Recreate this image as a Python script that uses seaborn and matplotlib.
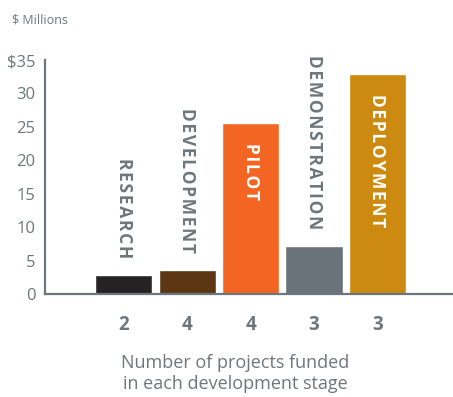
import matplotlib
matplotlib.use("Agg")
import matplotlib.pyplot as plt
import seaborn as sns
import pandas as pd

stages = ["RESEARCH", "DEVELOPMENT", "PILOT", "DEMONSTRATION", "DEPLOYMENT"]
funding = [2.8, 3.6, 25.6, 7.2, 32.9]
projects = ["2", "4", "4", "3", "3"]
colors = ["#252223", "#5d3714", "#f26522", "#6a7379", "#cc8b10"]
label_inside = [False, False, True, False, True]
yticks = [0, 5, 10, 15, 20, 25, 30, 35]
ytick_labels = ["0", "5", "10", "15", "20", "25", "30", "$35"]

GRAY = "#6d767b"

sns.set_style("white")
plt.rcParams['font.family'] = ['Open Sans', 'DejaVu Sans']

df = pd.DataFrame({"stage": stages, "funding": funding})

fig = plt.figure(figsize=(4.53, 3.97), dpi=100)
ax = fig.add_axes([45/453, 103/397, 1 - 45/453, (294-60)/397])

sns.barplot(data=df, x="stage", y="funding", hue="stage", palette=colors,
            width=0.9, legend=False, ax=ax, saturation=1)

ax.set_xlim(-1.24, 5.19)
ax.set_ylim(0, 35)
ax.set_yticks(yticks)
ax.set_yticklabels(ytick_labels)
ax.set_xticks(range(len(stages)))
ax.set_xticklabels(projects, fontsize=13.5, fontweight="bold", color=GRAY)

for s in ["top", "right"]:
    ax.spines[s].set_visible(False)
for s in ["left", "bottom"]:
    ax.spines[s].set_color(GRAY)
    ax.spines[s].set_linewidth(1.6)

ax.tick_params(axis="y", direction="in", length=8, width=1.6, color=GRAY,
               labelsize=12, labelcolor=GRAY, pad=7)
ax.tick_params(axis="x", length=0, pad=15)
ax.set_ylabel("")
ax.set_xlabel("Number of projects funded\nin each development stage",
              fontsize=13, color=GRAY, linespacing=1.2)
ax.xaxis.set_label_coords((235 - 45) / 408, -(383 - 294 + 10) / 234)
ax.xaxis.label.set_va("bottom")

for i, (name, val, inside) in enumerate(zip(stages, funding, label_inside)):
    spaced = "\u200a".join(name)
    if inside:
        ax.text(i, val - 3, spaced, rotation=-90, ha="center", va="top",
                color="white", fontsize=12.5, fontweight="bold")
    else:
        ax.text(i, val + 2.5, spaced, rotation=-90, ha="center", va="bottom",
                color=GRAY, fontsize=12.5, fontweight="bold")

fig.text(12/453, 1 - 20/397, "$ Millions", fontsize=9, color=GRAY,
         ha="left", va="center")

fig.savefig("out.png", dpi=100)
